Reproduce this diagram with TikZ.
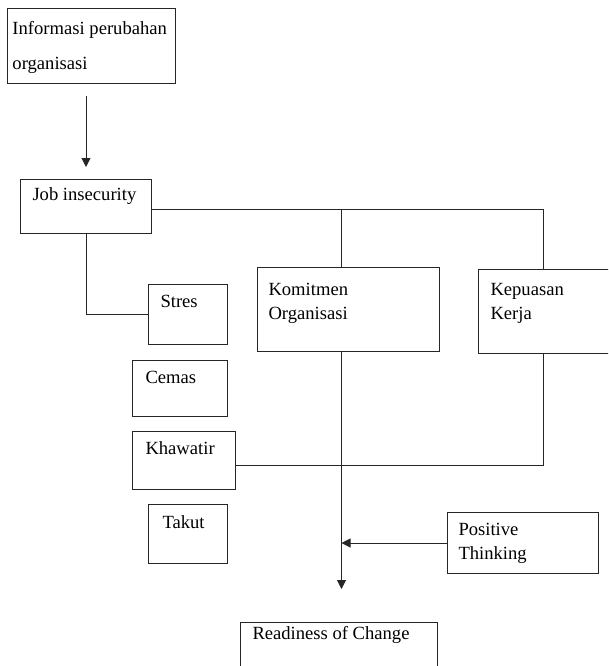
\documentclass[tikz,border=0pt]{standalone}
\usepackage{fontspec}
\setmainfont{Liberation Serif}
\usetikzlibrary{arrows.meta,calc}
\tikzset{
  bx/.style={draw=black!85, line width=1pt, inner sep=0pt, anchor=north west},
  ln/.style={draw=black!85, line width=1pt},
  arr/.style={ln, -{Triangle[length=9pt,width=9pt]}},
}
% name, x, y, w, h, padleft, first baseline, line spacing, text
\newcommand\tbx[9]{%
  \node (#1) [bx] at (#2,#3) {\begin{minipage}[t][#5pt][t]{#4pt}\raggedright
    \fontsize{18.6pt}{#8pt}\selectfont\leftskip=#6pt\relax
    \rule{0pt}{#7pt}#9\end{minipage}};}
\begin{document}
\begin{tikzpicture}[x=1pt,y=-1pt]
\useasboundingbox (0,0) rectangle (608,666);
\clip (0,0) rectangle (608,666);
\tbx{info}{7}{8}{168}{75}{5}{26}{35}{Informasi perubahan\\organisasi}
\tbx{job}{20}{179}{131}{54}{12}{21}{24}{Job insecurity}
\tbx{stres}{148}{284}{79}{60}{12}{23}{24}{Stres}
\tbx{cemas}{132}{360}{95}{56}{13}{23}{24}{Cemas}
\tbx{kha}{132}{431}{103}{58}{13}{23}{24}{Khawatir}
\tbx{takut}{148}{504}{79}{59}{14}{24}{24}{Takut}
\tbx{kom}{257}{267}{182}{84}{11}{28}{24}{Komitmen\\Organisasi}
\tbx{kep}{478}{269}{140}{84}{12}{26}{24}{Kepuasan\\Kerja}
\tbx{pos}{447}{512}{151}{61}{11}{23}{24}{Positive\\Thinking}
\tbx{rd}{240}{622}{197}{70}{12}{17}{24}{Readiness of Change}
% connectors
\draw[arr, shorten <=12pt, shorten >=12pt] (info.south -| job.north) -- (job.north);
\coordinate (jr) at ([yshift=-3pt]job.east);
\draw[ln] (jr) -| (543,0 |- kep.north);
\coordinate (kx) at ([xshift=-7pt]kom.north);
\draw[ln] (kx |- jr) -- (kx);
\draw[ln] (job.south) |- (stres.west);
\coordinate (kb) at ([xshift=-7pt]kom.south);
\draw[arr, shorten >=33pt] (kb) -- (kb |- rd.north);
\coordinate (kpb) at (543,0 |- kep.south);
\draw[ln] (kpb) |- ([yshift=-5pt]kha.east);
\draw[arr] (pos.west) -- (pos.west -| kb);
\end{tikzpicture}
\end{document}
